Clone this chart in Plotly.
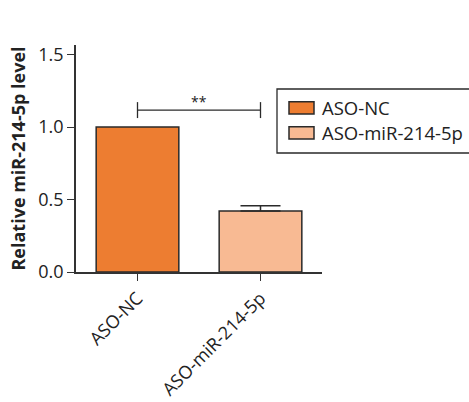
import plotly.graph_objects as go

categories = ["ASO-NC", "ASO-miR-214-5p"]
values = [1.0, 0.42]
errors = [0.0, 0.037]
colors = ["#ED7D31", "#F8BA93"]
yticks = [0.0, 0.5, 1.0, 1.5]
sig_y = 1.117
sig_tick = 0.055
sig_label = "**"

FONT = "Open Sans"
DARK = "#2a2a2a"
L, R, T, B = 76, 147, 45, 130
W, H = 469, 402
PW, PH = W - L - R, H - T - B

def px(x):
    return (x - L) / PW

def py(y):
    return (H - B - y) / PH

fig = go.Figure()
for i, c in enumerate(categories):
    fig.add_trace(go.Bar(
        x=[c], y=[values[i]], name=c, width=0.672,
        marker=dict(color=colors[i], line=dict(color=DARK, width=1.5)),
        error_y=dict(type="data", symmetric=False, array=[errors[i]], arrayminus=[0],
                     visible=errors[i] > 0, color=DARK, thickness=1.5, width=20),
        showlegend=False,
    ))

# significance bracket
fig.add_shape(type="line", xref="x", yref="y", x0=0, x1=1, y0=sig_y, y1=sig_y,
              line=dict(color=DARK, width=1.3))
for xc in [0, 1]:
    fig.add_shape(type="line", xref="x", yref="y", x0=xc, x1=xc,
                  y0=sig_y - sig_tick, y1=sig_y + sig_tick,
                  line=dict(color=DARK, width=1.3))
fig.add_annotation(x=0.5, y=sig_y, xref="x", yref="y", text=sig_label, showarrow=False,
                   yanchor="bottom", yshift=-3, font=dict(size=14, color="#222", family=FONT))

# manual legend (box partly cut by the right edge as in the reference)
fig.add_shape(type="rect", xref="paper", yref="paper", x0=px(277), x1=px(480),
              y0=py(153), y1=py(89), line=dict(color=DARK, width=1.3), fillcolor="white",
              layer="above")
sw_y = [(101.7, 114), (126.7, 139)]
for i, c in enumerate(categories):
    y0, y1 = sw_y[i]
    fig.add_shape(type="rect", xref="paper", yref="paper", x0=px(289), x1=px(314),
                  y0=py(y1), y1=py(y0), line=dict(color=DARK, width=1.5),
                  fillcolor=colors[i], layer="above")
    fig.add_annotation(xref="paper", yref="paper", x=px(320), y=py((y0 + y1) / 2),
                       text=c, showarrow=False, xanchor="left", yanchor="middle",
                       font=dict(size=18.5, family=FONT, color="#222"))

fig.update_layout(
    width=W, height=H,
    margin=dict(l=L, r=R, t=T, b=B, autoexpand=False),
    paper_bgcolor="white", plot_bgcolor="white",
    barmode="overlay",
    font=dict(family=FONT, size=18, color="#222"),
    showlegend=False,
    xaxis=dict(range=[-0.5, 1.5], showline=True, linecolor="#333", linewidth=1.5,
               ticks="outside", ticklen=7, tickwidth=1.3, tickcolor="#333",
               tickangle=-45, showgrid=False, zeroline=False, automargin=False,
               tickfont=dict(size=18, family=FONT)),
    yaxis=dict(range=[0, 1.566], showline=True, linecolor="#333", linewidth=1.5,
               ticks="outside", ticklen=7, tickwidth=1.3, tickcolor="#333",
               tickvals=yticks, ticktext=[f"{v:.1f}" for v in yticks],
               showgrid=False, zeroline=False, automargin=False,
               title=dict(text="<b>Relative miR-214-5p level</b>", font=dict(size=18, family=FONT), standoff=8),
               tickfont=dict(size=18, family=FONT)),
)

fig.write_html("out.html", config={"displayModeBar": False},
               post_script="document.body.style.margin='0px';document.body.style.overflow='hidden';")
